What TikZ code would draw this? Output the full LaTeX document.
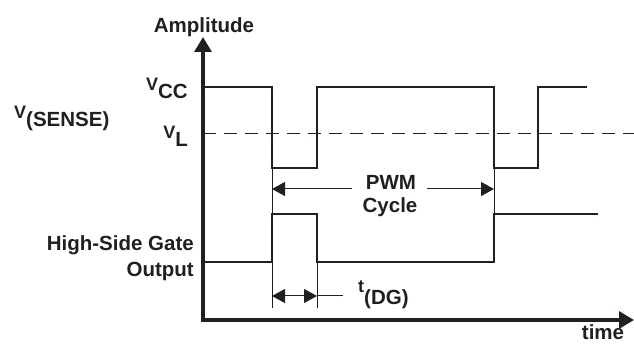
\documentclass[tikz,border=0pt]{standalone}
\usepackage{fontspec}
\setmainfont{Liberation Sans}
\usetikzlibrary{arrows.meta}
\definecolor{ink}{RGB}{35,31,32}
\newcommand\lowsz{\fontsize{18}{18}\selectfont\bfseries}
\begin{document}
\begin{tikzpicture}[x=1pt,y=-1pt,
  axis/.style={draw=ink,line width=3.2pt},
  sig/.style={draw=ink,line width=2.1pt,line join=miter,line cap=rect},
  ext/.style={draw=ink,line width=0.9pt},
  dim/.style={draw=ink,line width=1pt},
  lbl/.style={text=ink,inner sep=0pt,font=\fontsize{20.5}{22}\selectfont\bfseries},
  tip/.style={arrows={-{Triangle[length=13pt,width=14pt]}}},
  bigtip/.style={arrows={-{Triangle[length=15pt,width=17pt]}}}
]
\useasboundingbox (0,0) rectangle (634,344);
% axes
\coordinate (O) at (203,320);
\coordinate (Ytop) at (203,37);
\coordinate (Xend) at (634,320);
\draw[axis,bigtip] (O) -- (Ytop);
\draw[axis,bigtip] ([xshift=-1.6pt]O) -- (Xend);
% dashed V_L line
\coordinate (VLa) at (203,134);
\coordinate (VLb) at (634,134);
\draw[draw=ink,line width=1pt,dash pattern=on 13pt off 8pt] (VLa) -- (VLb);
% V(SENSE) signal
\draw[sig] (204,87) -- (272,87) -- (272,168) -- (317,168) -- (317,87) -- (494,87) -- (494,168) -- (538,168) -- (538,87) -- (586,87);
% gate signal
\draw[sig] (204,262) -- (272,262) -- (272,214) -- (317,214) -- (317,262) -- (494,262) -- (494,214) -- (597,214);
% extension lines
\draw[ext] (272,168) -- (272,214);
\draw[ext] (272,262) -- (272,308);
\draw[ext] (317,262) -- (317,308);
\draw[ext] (494,168) -- (494,214);
% PWM cycle arrows
\coordinate (Pa) at (272,189);
\coordinate (Pb) at (352,189);
\coordinate (Pc) at (427,189);
\coordinate (Pd) at (494,189);
\draw[dim,tip] (Pb) -- (Pa);
\draw[dim,tip] (Pc) -- (Pd);
% t(DG) arrows
\coordinate (Ta) at (272,296);
\coordinate (Tm) at (295,296);
\coordinate (Tb) at (317,296);
\coordinate (Tc) at (343,296);
\draw[dim,tip] (Tm) -- (Ta);
\draw[dim,tip] (Tm) -- (Tb);
\draw[dim] (Tb) -- (Tc);
% labels
\node[lbl,anchor=base] (amp) at (204,33) {Amplitude};
\node[lbl,anchor=base east] (vcc) at (188,99) {\raisebox{8pt}{\lowsz V}CC};
\node[lbl,anchor=base east] (vl) at (188,147) {\raisebox{8pt}{\lowsz V}L};
\node[lbl,anchor=base west] (vs) at (14,127) {\raisebox{8pt}{\lowsz V}(SENSE)};
\node[lbl,anchor=base east] (hsg) at (194,251) {High-Side Gate};
\node[lbl,anchor=base east] (out) at (194,277) {Output};
\node[lbl,anchor=base] (pwm) at (391,190) {PWM};
\node[lbl,anchor=base] (cyc) at (390,213) {Cycle};
\node[lbl,anchor=base west] (tdg) at (358,305) {\raisebox{12pt}{\lowsz t}(DG)};
\node[lbl,anchor=base] (time) at (603,340) {time};
\end{tikzpicture}
\end{document}
